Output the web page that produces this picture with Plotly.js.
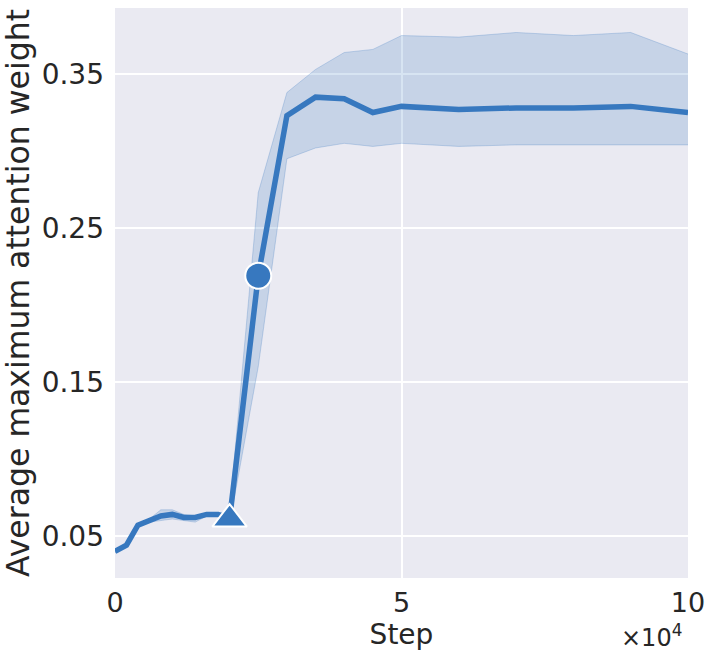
<!DOCTYPE html>
<html>
<head>
<meta charset="utf-8">
<script src="https://cdn.plot.ly/plotly-3.0.1.min.js"></script>
<style>
  html, body { margin: 0; padding: 0; background: #ffffff; }
  #chart { width: 715px; height: 658px; }
</style>
</head>
<body>
<div id="chart"></div>
<script>
// training steps and attention weight (mean with spread band)
const steps = [0, 2000, 4000, 6000, 8000, 10000, 12000, 14000, 16000, 18000, 20000,
               25000, 30000, 35000, 40000, 45000, 50000, 60000, 70000, 80000, 90000, 100000];
const meanWeight = [0.040, 0.044, 0.057, 0.060, 0.063, 0.064, 0.062, 0.062, 0.064, 0.064, 0.061,
                    0.219, 0.323, 0.335, 0.334, 0.325, 0.329, 0.327, 0.328, 0.328, 0.329, 0.325];
const upperWeight = [0.041, 0.045, 0.058, 0.061, 0.067, 0.067, 0.064, 0.063, 0.065, 0.065, 0.066,
                     0.273, 0.338, 0.353, 0.364, 0.366, 0.375, 0.374, 0.377, 0.375, 0.377, 0.363];
const lowerWeight = [0.039, 0.043, 0.056, 0.059, 0.060, 0.061, 0.060, 0.059, 0.063, 0.063, 0.058,
                     0.160, 0.295, 0.302, 0.305, 0.303, 0.305, 0.303, 0.304, 0.304, 0.304, 0.304];

// highlighted points
const triangleStep = [20000];
const triangleWeight = [0.061];
const circleStep = [25000];
const circleWeight = [0.219];

const xTicks = [0, 50000, 100000];
const xTickText = ['0', '5', '10'];
const yTicks = [0.05, 0.15, 0.25, 0.35];
const yTickText = ['0.05', '0.15', '0.25', '0.35'];

const blue = '#3778bf';
const font = 'DejaVu Sans, sans-serif';
const ink = '#262626';

const traces = [
  { x: steps, y: upperWeight, mode: 'lines', line: { color: 'rgba(55,120,191,0.25)', width: 1 },
    hoverinfo: 'skip', showlegend: false },
  { x: steps, y: lowerWeight, mode: 'lines', line: { color: 'rgba(55,120,191,0.25)', width: 1 },
    fill: 'tonexty', fillcolor: 'rgba(55,120,191,0.2)', hoverinfo: 'skip', showlegend: false },
  { x: steps, y: meanWeight, mode: 'lines', line: { color: blue, width: 5.5 }, showlegend: false },
  { x: triangleStep, y: triangleWeight, mode: 'markers', showlegend: false,
    marker: { symbol: 'triangle-up', size: 30, color: blue, line: { color: '#ffffff', width: 2 } } },
  { x: circleStep, y: circleWeight, mode: 'markers', showlegend: false,
    marker: { symbol: 'circle', size: 26, color: blue, line: { color: '#ffffff', width: 2 } } }
];

const layout = {
  width: 715, height: 658,
  margin: { l: 115, r: 27, t: 8, b: 80 },
  paper_bgcolor: '#ffffff',
  plot_bgcolor: '#eaeaf2',
  font: { family: font, size: 27, color: ink },
  xaxis: {
    range: [0, 100000], tickvals: xTicks, ticktext: xTickText,
    showgrid: true, gridcolor: '#ffffff', gridwidth: 2, zeroline: false,
    showline: false, ticks: '', ticklabelstandoff: 6, tickfont: { size: 27, color: ink },
    title: { text: 'Step', font: { size: 28, color: ink }, standoff: 0 }
  },
  yaxis: {
    range: [0.0227, 0.3929], tickvals: yTicks, ticktext: yTickText,
    showgrid: true, gridcolor: '#ffffff', gridwidth: 2, zeroline: false,
    showline: false, ticks: '', ticklabelstandoff: 10, tickfont: { size: 28, color: ink },
    title: { text: 'Average maximum attention weight', font: { size: 31.5, color: ink }, standoff: 6 }
  },
  annotations: [{
    text: '×10<sup>4</sup>', xref: 'paper', yref: 'paper', x: 1.0, y: 0, xanchor: 'right', yanchor: 'top',
    yshift: -40, xshift: -4, showarrow: false, font: { size: 24, color: ink }
  }]
};

Plotly.newPlot('chart', traces, layout, { displayModeBar: false, staticPlot: true });
</script>
</body>
</html>
